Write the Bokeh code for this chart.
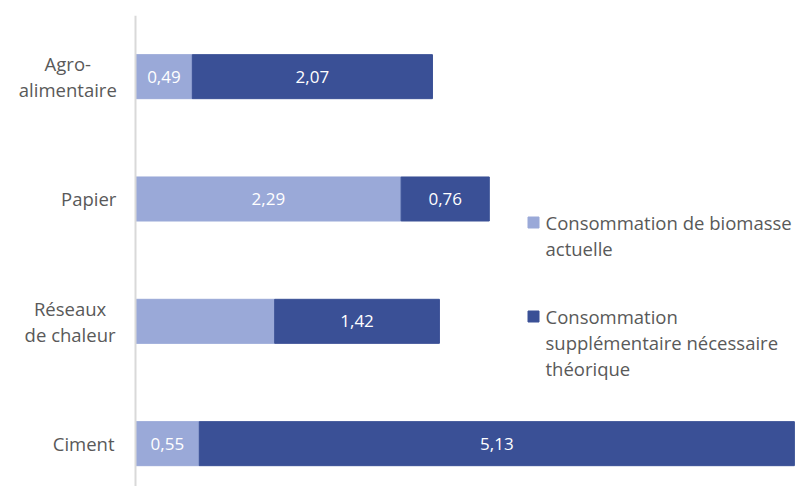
from bokeh.plotting import figure
from bokeh.models import Range1d, ColumnDataSource, Label, Span
from bokeh.core.properties import value
from bokeh.embed import file_html
from bokeh.resources import INLINE

# ---- data ----
categories = ["Agro-\nalimentaire", "Papier", "Réseaux\nde chaleur", "Ciment"]
actuelle = [0.49, 2.29, 1.20, 0.55]
supplementaire = [2.07, 0.76, 1.42, 5.13]
labels_actuelle = ["0,49", "2,29", "", "0,55"]
labels_supp = ["2,07", "0,76", "1,42", "5,13"]
legend_labels = [["Consommation de biomasse", "actuelle"],
                 ["Consommation", "supplémentaire nécessaire", "théorique"]]

LIGHT = "#9aa9d8"
DARK = "#3a5096"
TEXT = "#595959"
FONT = "Open Sans"

# ---- geometry (screen px) ----
W, H = 797, 486
AXIS_X, TOP = 135, 15
PX_PER_UNIT = 116.0
BAND_PX = 122.33
frame_h = H - TOP
n = len(categories)
y_top = float(n)
y_bottom = y_top - frame_h / BAND_PX

def px_x(sx):
    return (sx - AXIS_X) / PX_PER_UNIT

def px_y(sy):
    return y_top - (sy - TOP) / BAND_PX

ypos = [n - i - 0.5 for i in range(n)]

src = ColumnDataSource(dict(
    y=ypos,
    a=actuelle,
    tot=[a + s for a, s in zip(actuelle, supplementaire)],
    mid1=[a / 2 for a in actuelle],
    mid2=[a + s / 2 for a, s in zip(actuelle, supplementaire)],
    l1=labels_actuelle,
    l2=labels_supp,
))

p = figure(width=W, height=H, output_backend="svg", toolbar_location=None,
           x_range=Range1d(px_x(0), px_x(W)),
           y_range=Range1d(y_bottom, y_top),
           min_border_left=0, min_border_right=0,
           min_border_top=TOP, min_border_bottom=0)
p.outline_line_color = None
p.grid.visible = False
p.axis.visible = False
p.background_fill_color = "white"
p.border_fill_color = "white"

# vertical category axis line
p.add_layout(Span(location=0, dimension="height", line_color="#d9d9d9",
                  line_width=2))

p.hbar(y="y", left=0, right="a", height=0.36, color=LIGHT, source=src)
p.hbar(y="y", left="a", right="tot", height=0.36, color=DARK, source=src)

for xcol, lcol in (("mid1", "l1"), ("mid2", "l2")):
    p.text(x=xcol, y="y", text=lcol, source=src, text_align="center",
           text_baseline="middle", text_color="white",
           text_font=value(FONT), text_font_size="17px")

# ---- category labels: block right-aligned, lines centred ----
LABEL_RIGHT = 115
LABEL_SIZE = 18.5
block_px = [95.4, 53.5, 90.8, 63.7]   # approx. widest line width of each label
cat_src = ColumnDataSource(dict(
    x=[px_x(LABEL_RIGHT - bw / 2) for bw in block_px],
    y=ypos,
    t=categories,
))
p.text(x="x", y="y", text="t", source=cat_src, text_align="center",
       text_baseline="middle", text_color=TEXT, text_font=value(FONT),
       text_font_size=f"{LABEL_SIZE}px", text_line_height=1.03)

# ---- legend (manual) ----
leg_colors = [LIGHT, DARK]
leg_first_line = [222, 316]
line_step = 26
sq_x, txt_x = 533, 545
for col, lines, y0 in zip(leg_colors, legend_labels, leg_first_line):
    p.scatter(x=[px_x(sq_x)], y=[px_y(y0)], marker="square", size=11,
              color=col)
    for k, t in enumerate(lines):
        p.add_layout(Label(x=px_x(txt_x), y=px_y(y0 + k * line_step), text=t,
                           text_align="left", text_baseline="middle",
                           text_font=FONT, text_font_size="18.5px",
                           text_color=TEXT))

open("out.html", "w").write(file_html(p, INLINE))
